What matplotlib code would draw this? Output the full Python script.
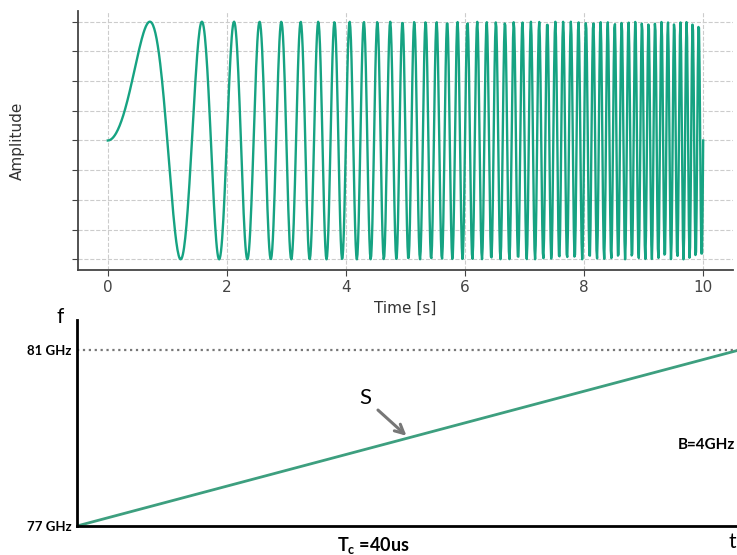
import numpy as np
import matplotlib.pyplot as plt

# chirp signal parameters (instantaneous frequency rises linearly)
t_start = 0.0
t_end = 10.0
n_samples = 1000
sweep_rate = 1.0  # Hz per second

# FMCW ramp parameters
f_start = 77      # GHz
f_stop = 81       # GHz
chirp_time = 40   # us
freq_ticks = [77, 81]
freq_tick_labels = ['77 GHz', '81 GHz']

t = np.linspace(t_start, t_end, n_samples)
amp = np.sin(np.pi * sweep_rate * t ** 2)

fig = plt.figure(figsize=(7.37, 5.55), dpi=100)

# --- chirp waveform ---
ax1 = fig.add_axes([0.1058, 0.5135, 0.8887, 0.4667])
ax1.plot(t, amp, color='#16a382', lw=1.7)
ax1.set_xlim(-0.5, 10.5)
ax1.set_ylim(-1.09, 1.09)
ax1.set_xticks(np.arange(0, 11, 2))
ax1.set_yticks(np.arange(-1, 1.01, 0.25))
ax1.set_yticklabels([])
ax1.grid(True, ls='--', color='#cccccc', lw=0.8)
ax1.set_xlabel('Time [s]', fontsize=11, color='#333333')
ax1.set_ylabel('Amplitude', fontsize=11, color='#333333', labelpad=31)
ax1.tick_params(colors='#444444', labelsize=11, length=4)
for s in ['top', 'right']:
    ax1.spines[s].set_visible(False)
for s in ['left', 'bottom']:
    ax1.spines[s].set_color('#444444')
    ax1.spines[s].set_linewidth(1.3)

# --- frequency ramp ---
ax2 = fig.add_axes([0.1045, 0.0523, 0.8985, 0.371])
ax2.plot([0, chirp_time], [f_start, f_stop], color='#3d9f7f', lw=2)
ax2.axhline(f_stop, color='#777777', ls=':', lw=1.6)
ax2.set_xlim(0, chirp_time)
ax2.set_ylim(f_start, 81.68)
ax2.set_xticks([])
ax2.set_yticks(freq_ticks)
ax2.set_yticklabels(freq_tick_labels, fontsize=9.5, fontweight='bold', family='Lato')
ax2.tick_params(length=0, pad=4)
for s in ['top', 'right']:
    ax2.spines[s].set_visible(False)
for s in ['left', 'bottom']:
    ax2.spines[s].set_color('black')
    ax2.spines[s].set_linewidth(2)

ax2.annotate('S', xy=(19.9, 79.05), xytext=(17.4, 79.9), fontsize=16,
             family='Lato', ha='center', va='center',
             arrowprops=dict(arrowstyle='->', color='#777777', lw=2.2,
                             shrinkA=4, shrinkB=0))
ax2.text(36.3, 78.85, 'B=4GHz', fontsize=11, fontweight='bold',
         family='Lato', ha='left', va='center', clip_on=False)
ax2.text(17.9, 76.55, r'T$_\mathregular{c}$ =40us', fontsize=13, fontweight='bold',
         family='Lato', ha='center', va='center', clip_on=False)
ax2.text(-1.0, 81.75, 'f', fontsize=15, family='Lato', ha='center',
         va='center', clip_on=False)
ax2.text(39.6, 76.64, 't', fontsize=15, family='Lato', ha='center',
         va='center', clip_on=False)

fig.savefig('out.png', dpi=100)
